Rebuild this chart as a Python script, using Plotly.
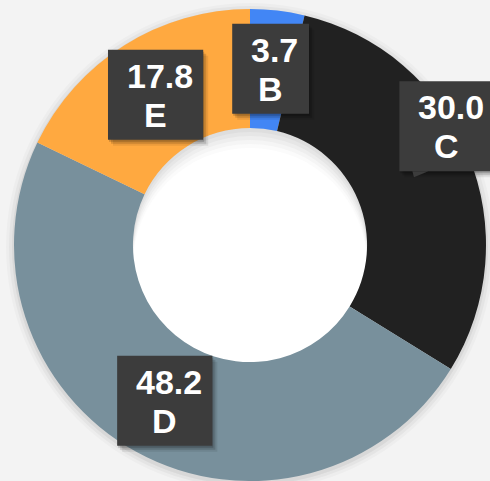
import math
import plotly.graph_objects as go

# ---- data ----
labels = ["B", "C", "D", "E"]
values = [3.7, 30.0, 48.2, 17.8]
value_text = ["3.7", "30.0", "48.2", "17.8"]
colors = ["#4286F5", "#212121", "#78909C", "#FFA940"]

# ---- layout geometry (pixels) ----
W, H = 490, 481
CX, CY, R = 250, 245, 236
HOLE = 0.496
LABEL_R = 0.752 * R
NUDGE = {"C": (33, -51)}          # label moved off its anchor (callout)
FS = 34


def px(x, y):
    return x / W, 1 - y / H


total = sum(values)
shapes = []
annotations = []

# donut soft outer shadow
for dr, a in [(8, 0.025), (5, 0.035), (2, 0.05)]:
    x0, y0 = px(CX - R - dr, CY - R - dr + 2)
    x1, y1 = px(CX + R + dr, CY + R + dr + 2)
    shapes.append(dict(type="circle", xref="paper", yref="paper", layer="below",
                       x0=x0, y0=y0, x1=x1, y1=y1,
                       fillcolor=f"rgba(0,0,0,{a})", line_width=0))

# hole: white with inner shadow at top
rh = HOLE * R
for dy, c in [(0, "#dedede"), (4, "#e6e6e6"), (8, "#eeeeee"), (12, "#f5f5f5"), (16, "#fbfbfb"), (20, "#ffffff")]:
    x0, y0 = px(CX - rh, CY - rh + dy)
    x1, y1 = px(CX + rh, CY + rh + dy)
    shapes.append(dict(type="circle", xref="paper", yref="paper", layer="below",
                       x0=x0, y0=y0, x1=x1, y1=y1, fillcolor=c, line_width=0))

fig = go.Figure(go.Pie(
    labels=labels, values=values, sort=False, direction="clockwise", rotation=0,
    hole=HOLE, marker=dict(colors=colors, line=dict(width=0)),
    textinfo="none", hoverinfo="skip", showlegend=False,
    domain=dict(x=[(CX - R) / W, (CX + R) / W], y=[(H - CY - R) / H, (H - CY + R) / H]),
))


def text_w(s):
    return sum(0.278 * 33 if ch == "." else 0.556 * 33 for ch in s)


cum = 0.0
for lab, v, vt in zip(labels, values, value_text):
    mid = (cum + v / 2) / total * 2 * math.pi
    cum += v
    ax = CX + LABEL_R * math.sin(mid)
    ay = CY - LABEL_R * math.cos(mid)
    dx, dy = NUDGE.get(lab, (0, 0))
    bx, by = ax + dx, ay + dy
    bw = text_w(vt) + 31
    bh = 90
    # shadow
    for ox, oy, a in [(5, 6, 0.08), (3, 4, 0.14), (1, 2, 0.18)]:
        x0, y0 = px(bx - bw / 2 + ox, by - bh / 2 + oy)
        x1, y1 = px(bx + bw / 2 + ox, by + bh / 2 + oy)
        shapes.append(dict(type="rect", xref="paper", yref="paper", layer="above",
                           x0=x0, y0=y0, x1=x1, y1=y1,
                           fillcolor=f"rgba(0,0,0,{a})", line_width=0))
    x0, y0 = px(bx - bw / 2, by - bh / 2)
    x1, y1 = px(bx + bw / 2, by + bh / 2)
    shapes.append(dict(type="rect", xref="paper", yref="paper", layer="above",
                       x0=x0, y0=y0, x1=x1, y1=y1, fillcolor="#3c3c3c", line_width=0))
    if lab in NUDGE:
        # callout tail pointing to the anchor
        p1 = px(bx - bw / 2 + 13, by + bh / 2)
        p2 = px(bx - bw / 2 + 29, by + bh / 2)
        p3 = px(ax, ay)
        shapes.append(dict(type="path", xref="paper", yref="paper", layer="above",
                           path=f"M {p1[0]} {p1[1]} L {p2[0]} {p2[1]} L {p3[0]} {p3[1]} Z",
                           fillcolor="#3c3c3c", line_width=0))
    tx, ty = px(bx + 4, by - 19)
    annotations.append(dict(x=tx, y=ty, xref="paper", yref="paper", text=f"<b>{vt}</b>",
                            showarrow=False, xanchor="center", yanchor="middle",
                            font=dict(size=FS, color="white")))
    tx, ty = px(bx, by + 20)
    annotations.append(dict(x=tx, y=ty, xref="paper", yref="paper", text=f"<b>{lab}</b>",
                            showarrow=False, xanchor="center", yanchor="middle",
                            font=dict(size=FS, color="white")))

fig.update_layout(
    width=W, height=H, margin=dict(l=0, r=0, t=0, b=0),
    paper_bgcolor="#f3f3f3", plot_bgcolor="#f3f3f3",
    font=dict(family="Liberation Sans, Arial, sans-serif"),
    shapes=shapes, annotations=annotations,
)

fig.write_html("out.html", config={"displayModeBar": False},
               post_script="document.body.style.margin='0';document.body.style.overflow='hidden';")
